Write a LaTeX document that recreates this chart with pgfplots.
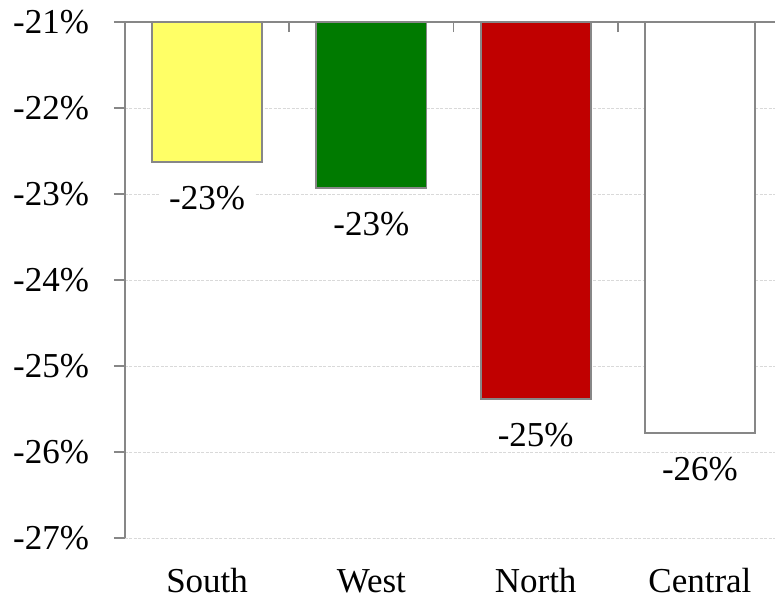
\documentclass[border=0pt]{standalone}
\usepackage{pgfplots}
\pgfplotsset{compat=1.18}
\usepackage{fontspec}
\setmainfont{Liberation Serif}

\definecolor{barYellow}{HTML}{FFFF66}
\definecolor{barGreen}{HTML}{007A00}
\definecolor{barRed}{HTML}{C00000}
\definecolor{edgeGray}{HTML}{878787}
\definecolor{gridGray}{HTML}{D9D9D9}

\newcommand{\chartfont}{\fontsize{17.5}{21}\selectfont}

\pgfplotsset{
  regionbar/.style={
    ybar, bar width=0.67, bar shift=0pt,
    draw=edgeGray, line width=0.9pt,
    nodes near coords={\pgfmathprintnumber[fixed,precision=0,assume math mode=true]{\pgfplotspointmeta}\%},
    nodes near coords style={anchor=center, yshift=-18pt, fill=white,
      inner xsep=5pt, inner ysep=2pt, text=black, font=\chartfont},
  },
}

\begin{document}
\begin{tikzpicture}
\useasboundingbox (-62.5pt,-31pt) rectangle (325pt,269pt);
\begin{axis}[
  at={(0,0)}, anchor=south west,
  width=325pt, height=258pt, scale only axis,
  xmin=-0.5, xmax=3.457,
  ymin=-27, ymax=-21,
  axis x line*=top, axis y line*=left,
  axis line style={edgeGray, line width=0.9pt},
  xtick={0,1,2,3},
  xticklabels={South,West,North,Central},
  minor xtick={0.5,1.5,2.5},
  major x tick style={draw=none},
  ytick={-27,-26,...,-21},
  yticklabels={-27\%,-26\%,-25\%,-24\%,-23\%,-22\%,-21\%},
  tick align=outside,
  major tick length=5.5pt,
  minor tick length=-5pt,
  tick style={edgeGray, line width=0.9pt},
  tick label style={font=\chartfont, text=black},
  yticklabel style={xshift=-9pt},
  % category names sit below the plot area on a common baseline,
  % while the x axis line runs along the top
  xticklabel style={anchor=base, inner sep=1pt, yshift=-290.5pt},
  ymajorgrids,
  major grid style={gridGray, dash pattern=on 1.5pt off 0.75pt, line width=0.5pt},
]
  \addplot[regionbar, fill=barYellow] coordinates {(0,-22.63)};
  \addplot[regionbar, fill=barGreen]  coordinates {(1,-22.93)};
  \addplot[regionbar, fill=barRed]    coordinates {(2,-25.38)};
  \addplot[regionbar, fill=white]     coordinates {(3,-25.78)};
\end{axis}
\end{tikzpicture}
\end{document}
